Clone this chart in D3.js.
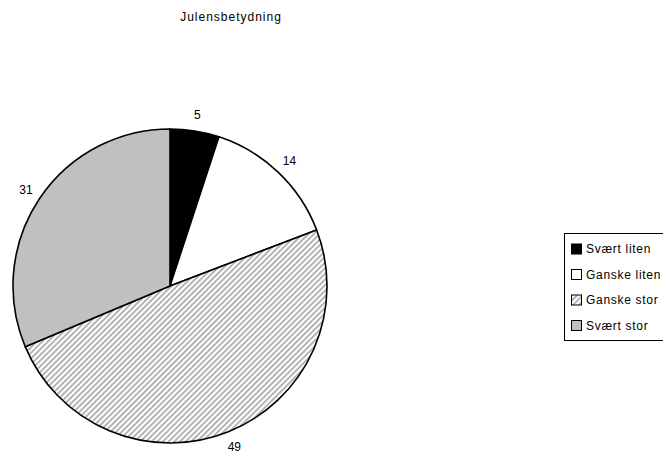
<!DOCTYPE html>
<html><head><meta charset="utf-8">
<script src="https://cdn.jsdelivr.net/npm/d3@7"></script>
<style>body{margin:0;background:#fff;} svg{display:block;font-family:"Liberation Sans",Arial,sans-serif;}</style>
</head><body>
<svg id="c" width="663" height="454"></svg>
<script>
const title = "Julensbetydning";
const categories = ["Svært liten", "Ganske liten", "Ganske stor", "Svært stor"];
const values = [5, 14, 49, 31];
const fills = ["#000000", "#ffffff", "url(#hatch)", "#c0c0c0"];

const svg = d3.select("#c");
const defs = svg.append("defs");
const pat = defs.append("pattern").attr("id","hatch").attr("patternUnits","userSpaceOnUse")
  .attr("width",4).attr("height",4).attr("patternTransform","rotate(45)");
pat.append("rect").attr("width",4).attr("height",4).attr("fill","#fff");
pat.append("rect").attr("x",0).attr("width",2).attr("height",4).attr("fill","#b4b4b4");

svg.append("text").attr("x",231).attr("y",21).attr("text-anchor","middle")
  .attr("font-size",12).attr("letter-spacing",1).text(title);

const cx = 170, cy = 286, r = 157;
const g = svg.append("g").attr("transform",`translate(${cx},${cy})`);
const pie = d3.pie().sort(null).value(d=>d);
const arcs = pie(values);
const arc = d3.arc().innerRadius(0).outerRadius(r);
const labelArc = d3.arc().innerRadius(173).outerRadius(173);

g.selectAll("path").data(arcs).join("path")
  .attr("d",arc).attr("fill",(d,i)=>fills[i])
  .attr("stroke","#000").attr("stroke-width",1.6).attr("stroke-linejoin","round");

g.selectAll("text").data(arcs).join("text")
  .attr("transform",d=>`translate(${labelArc.centroid(d)})`)
  .attr("text-anchor","middle").attr("dy","0.35em").attr("font-size",12)
  .text(d=>d.data);

// legend
const lg = svg.append("g").attr("transform","translate(564,233)");
lg.append("rect").attr("x",0.5).attr("y",0.5).attr("width",110).attr("height",107)
  .attr("fill","#fff").attr("stroke","#000").attr("stroke-width",1);
const items = lg.selectAll("g.it").data(categories).join("g").attr("class","it")
  .attr("transform",(d,i)=>`translate(7,${16 + i*25.5})`);
items.append("rect").attr("x",0.5).attr("y",-5).attr("width",10).attr("height",10)
  .attr("fill",(d,i)=>fills[i]).attr("stroke","#000").attr("stroke-width",1);
items.append("text").attr("x",15).attr("y",0).attr("dy","0.35em").attr("font-size",12)
  .attr("letter-spacing",0.7).text(d=>d);
</script>
</body></html>
